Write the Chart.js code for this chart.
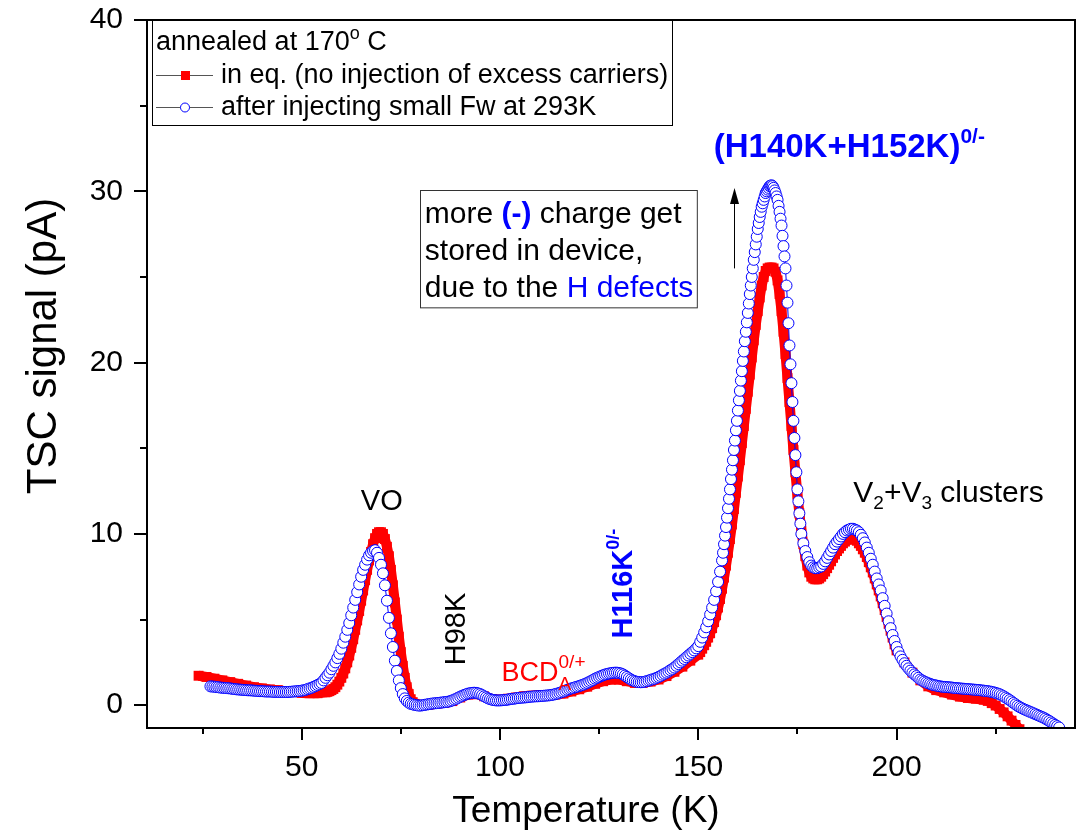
<!DOCTYPE html>
<html>
<head>
<meta charset="utf-8">
<script src="https://cdn.jsdelivr.net/npm/chart.js@4.4.1/dist/chart.umd.min.js"></script>
<style>
  html, body { margin: 0; padding: 0; background: #fff; }
  #wrap { width: 1082px; height: 833px; }
</style>
</head>
<body>
<div id="wrap"><canvas id="tsc" width="1082" height="833"></canvas></div>
<script>
// TSC spectra, annealed at 170 C
// after injecting small Fw at 293K (blue open circles)
const injT = [
  27, 27.5, 28, 28.5, 29, 29.5, 30, 30.5, 31, 31.5, 32, 32.5, 33, 33.5, 34, 34.5, 35, 35.5, 36, 36.5, 37, 37.5,
  38, 38.5, 39, 39.5, 40, 40.5, 41, 41.5, 42, 42.5, 43, 43.5, 44, 44.5, 45, 45.5, 46, 46.5, 47, 47.5, 48, 48.5,
  49, 49.5, 50, 50.5, 51, 51.5, 52, 52.5, 53, 53.5, 54, 54.5,
  55, 55.5, 56, 56.5, 57, 57.5, 58, 58.5, 59, 59.5, 60, 60.5, 61, 61.5, 62, 62.5, 63, 63.5, 64, 64.5, 65, 65.5,
  66, 66.5, 67, 67.5, 68, 68.5, 69, 69.5, 70, 70.5, 71, 71.5, 72, 72.5, 73, 73.5, 74, 74.5, 75, 75.5, 76, 76.5,
  77, 77.5, 78, 78.5, 79, 79.5, 80,
  80.5, 81, 81.5, 82, 82.5, 83, 83.5, 84, 84.5, 85, 85.5, 86, 86.5, 87, 87.5, 88, 88.5, 89, 89.5, 90,
  90.5, 91, 91.5, 92, 92.5, 93, 93.5, 94, 94.5, 95, 95.5, 96, 96.5, 97, 97.5, 98, 98.5, 99, 99.5, 100,
  100.5, 101, 101.5, 102, 102.5, 103, 103.5, 104, 104.5, 105, 105.5, 106, 106.5, 107, 107.5, 108, 108.5, 109, 109.5, 110,
  110.5, 111, 111.5, 112, 112.5, 113, 113.5, 114, 114.5, 115, 115.5, 116, 116.5, 117, 117.5, 118, 118.5, 119, 119.5, 120,
  120.5, 121, 121.5, 122, 122.5, 123, 123.5, 124, 124.5, 125, 125.5, 126, 126.5, 127, 127.5, 128, 128.5, 129, 129.5, 130,
  130.5, 131, 131.5, 132, 132.5, 133, 133.5, 134, 134.5, 135, 135.5, 136, 136.5, 137, 137.5, 138, 138.5, 139, 139.5, 140,
  140.5, 141, 141.5, 142, 142.5, 143, 143.5, 144, 144.5, 145, 145.5, 146, 146.5, 147, 147.5, 148, 148.5, 149, 149.5,
  150, 150.5, 151, 151.5, 152, 152.5, 153, 153.5, 154, 154.5, 155, 155.5,
  156, 156.25, 156.5, 156.75, 157, 157.25, 157.5, 157.75, 158, 158.25, 158.5, 158.75, 159, 159.25, 159.5, 159.75,
  160, 160.25, 160.5, 160.75, 161, 161.25, 161.5, 161.75, 162, 162.25, 162.5, 162.75, 163, 163.25, 163.5, 163.75,
  164, 164.25, 164.5, 164.75, 165, 165.25, 165.5, 165.75, 166, 166.25, 166.5, 166.75, 167, 167.25, 167.5, 167.75,
  168, 168.25, 168.5, 168.75, 169, 169.25, 169.5, 169.75, 170, 170.25, 170.5, 170.75, 171, 171.25, 171.5, 171.75,
  172, 172.25, 172.5, 172.75, 173, 173.25, 173.5, 173.75, 174, 174.25, 174.5, 174.75, 175, 175.25, 175.5, 175.75, 176,
  176.5, 177, 177.5, 178, 178.5, 179, 179.5, 180, 180.5, 181, 181.5, 182, 182.5, 183, 183.5, 184, 184.5, 185,
  185.5, 186, 186.5, 187, 187.5, 188, 188.5, 189, 189.5, 190, 190.5, 191, 191.5, 192, 192.5, 193, 193.5, 194,
  194.5, 195, 195.5, 196, 196.5, 197, 197.5, 198, 198.5, 199, 199.5, 200,
  200.5, 201, 201.5, 202, 202.5, 203, 203.5, 204, 204.5, 205, 205.5, 206, 206.5, 207, 207.5, 208, 208.5, 209, 209.5, 210,
  210.5, 211, 211.5, 212, 212.5, 213, 213.5, 214, 214.5, 215, 215.5, 216, 216.5, 217, 217.5, 218, 218.5, 219, 219.5, 220,
  220.5, 221, 221.5, 222, 222.5, 223, 223.5, 224, 224.5, 225, 225.5, 226, 226.5, 227, 227.5, 228, 228.5, 229, 229.5, 230,
  230.5, 231, 231.5, 232, 232.5, 233, 233.5, 234, 234.5, 235, 235.5, 236, 236.5, 237, 237.5, 238, 238.5, 239, 239.5, 240,
  240.5, 241
];
const injV = [
  1.10, 1.09, 1.08, 1.06, 1.05, 1.03, 1.02, 1.01, 1.00, 0.99, 0.98, 0.96, 0.95, 0.93, 0.92, 0.91, 0.90, 0.89,
  0.88, 0.87, 0.87, 0.86, 0.85, 0.84, 0.83, 0.82, 0.82, 0.81, 0.80, 0.80, 0.80, 0.79, 0.78, 0.78, 0.78, 0.77,
  0.77, 0.77, 0.77, 0.77, 0.78, 0.79, 0.80, 0.81, 0.82, 0.83, 0.85, 0.87, 0.90, 0.94, 0.98, 1.02, 1.07, 1.12,
  1.18, 1.24,
  1.30, 1.45, 1.60, 1.75, 1.90, 2.10, 2.30, 2.50, 2.75, 3.00, 3.30, 3.65, 4.00, 4.40, 4.80, 5.25, 5.70, 6.15,
  6.60, 7.05, 7.50, 7.90, 8.20, 8.50, 8.75, 8.90, 9.00, 9.05, 8.90, 8.60, 8.20, 7.70, 7.00, 6.10, 5.10, 4.20,
  3.40, 2.60, 2.00, 1.45, 1.00, 0.65, 0.40, 0.25, 0.15, 0.08, 0.05, 0.02, 0.00, -0.02, -0.02,
  0.00, 0.02, 0.04, 0.06, 0.08, 0.10, 0.11, 0.12, 0.13, 0.15, 0.16, 0.18, 0.19, 0.21, 0.24, 0.28, 0.33, 0.38, 0.44, 0.50,
  0.55, 0.60, 0.64, 0.68, 0.70, 0.72, 0.73, 0.72, 0.69, 0.65, 0.59, 0.52, 0.46, 0.40, 0.36, 0.32, 0.30, 0.28, 0.28, 0.28,
  0.29, 0.30, 0.31, 0.33, 0.35, 0.37, 0.38, 0.40, 0.42, 0.43, 0.44, 0.45, 0.46, 0.47, 0.49, 0.50, 0.51, 0.52, 0.52, 0.53,
  0.54, 0.55, 0.56, 0.57, 0.58, 0.60, 0.62, 0.65, 0.68, 0.72, 0.76, 0.80, 0.85, 0.90, 0.94, 0.98, 1.01, 1.05, 1.08, 1.12,
  1.16, 1.20, 1.25, 1.30, 1.36, 1.42, 1.48, 1.55, 1.60, 1.65, 1.70, 1.75, 1.79, 1.82, 1.85, 1.87, 1.89, 1.90, 1.90, 1.88,
  1.85, 1.80, 1.73, 1.65, 1.57, 1.50, 1.44, 1.40, 1.37, 1.35, 1.34, 1.35, 1.37, 1.40, 1.44, 1.48, 1.51, 1.55, 1.60, 1.65,
  1.71, 1.78, 1.84, 1.90, 1.97, 2.05, 2.12, 2.20, 2.30, 2.40, 2.50, 2.60, 2.70, 2.80, 2.90, 3.00, 3.10, 3.20, 3.32,
  3.45, 3.70, 3.95, 4.25, 4.55, 4.90, 5.30, 5.70, 6.15, 6.65, 7.20, 7.80,
  8.45, 8.90, 9.40, 9.90, 10.40, 10.95, 11.50, 12.05, 12.60, 13.20, 13.75, 14.30, 14.90, 15.45, 16.05, 16.60,
  17.20, 17.80, 18.35, 18.95, 19.50, 20.10, 20.65, 21.25, 21.80, 22.35, 22.90, 23.45, 24.00, 24.50, 25.00, 25.50,
  26.00, 26.45, 26.90, 27.35, 27.80, 28.15, 28.50, 28.80, 29.10, 29.30, 29.50, 29.70, 29.90, 30.00, 30.10, 30.20,
  30.30, 30.33, 30.35, 30.30, 30.20, 30.05, 29.90, 29.70, 29.50, 29.15, 28.80, 28.40, 28.00, 27.40, 26.80, 26.20,
  25.50, 24.50, 23.50, 22.30, 21.00, 19.90, 18.80, 17.70, 16.60, 15.60, 14.60, 13.60, 12.60, 11.90, 11.20, 10.60, 10.00,
  9.45, 9.00, 8.65, 8.35, 8.15, 8.05, 8.00, 8.00, 8.05, 8.10, 8.25, 8.40, 8.60, 8.80, 9.00, 9.20, 9.40, 9.55,
  9.70, 9.85, 10.00, 10.10, 10.20, 10.25, 10.30, 10.30, 10.25, 10.20, 10.10, 9.95, 9.75, 9.50, 9.20, 8.90, 8.55, 8.20,
  7.80, 7.40, 7.05, 6.70, 6.25, 5.80, 5.35, 4.90, 4.50, 4.10, 3.75, 3.40,
  3.10, 2.85, 2.65, 2.45, 2.30, 2.15, 2.02, 1.90, 1.80, 1.70, 1.60, 1.50, 1.44, 1.38, 1.33, 1.28, 1.24, 1.20, 1.17, 1.15,
  1.12, 1.10, 1.08, 1.07, 1.06, 1.05, 1.04, 1.03, 1.01, 1.00, 0.99, 0.98, 0.97, 0.96, 0.95, 0.94, 0.93, 0.92, 0.91, 0.90,
  0.89, 0.88, 0.86, 0.85, 0.83, 0.82, 0.80, 0.78, 0.75, 0.72, 0.68, 0.64, 0.58, 0.52, 0.45, 0.38, 0.30, 0.22, 0.13, 0.05,
  -0.03, -0.10, -0.16, -0.22, -0.27, -0.32, -0.37, -0.42, -0.47, -0.52, -0.57, -0.62, -0.67, -0.72, -0.78, -0.85, -0.92,
  -1.00, -1.07, -1.15, -1.22, -1.30
];

// in eq. (no injection of excess carriers) (red squares)
const eqT = [
  24, 26, 28, 30, 32, 34, 36, 38, 40, 42, 44, 46, 48, 50, 52, 54,
  56, 56.5, 57, 57.5, 58, 58.5, 59, 59.5, 60, 60.5, 61, 61.5, 62, 62.5, 63, 63.5, 64, 64.5, 65, 65.5, 66, 66.5,
  67, 67.5, 68, 68.5, 69, 69.5, 70, 70.5, 71, 71.5, 72, 72.5, 73, 73.5, 74, 74.5, 75, 75.5, 76, 76.5, 77, 77.5,
  78, 78.5, 79, 79.5, 80,
  82, 84, 86, 88, 90, 92, 94, 96, 98, 100, 102, 104, 106, 108, 110, 112, 114, 116, 118, 120, 122, 124, 126, 128,
  130, 132, 134, 136, 138, 140, 142, 144, 146, 148,
  150, 150.5, 151, 151.5, 152, 152.5, 153, 153.5, 154, 154.5, 155, 155.5, 156, 156.5, 157, 157.5, 158, 158.5,
  159, 159.5, 160, 160.5, 161, 161.5, 162, 162.5, 163, 163.5, 164, 164.5, 165, 165.5, 166, 166.5, 167, 167.5,
  168, 168.5, 169, 169.5, 170, 170.5, 171, 171.5, 172, 172.5, 173, 173.5, 174, 174.5, 175, 175.5, 176, 176.5,
  177, 177.5, 178, 178.5, 179, 179.5, 180, 180.5, 181, 181.5, 182, 182.5, 183, 183.5, 184, 184.5, 185, 185.5,
  186, 186.5, 187, 187.5, 188, 188.5, 189, 189.5, 190, 190.5, 191, 191.5, 192, 192.5, 193, 193.5, 194, 194.5,
  195, 195.5, 196, 196.5, 197, 197.5, 198, 198.5, 199, 199.5, 200,
  202, 204, 206, 208, 210, 212, 214, 216, 218, 220, 222, 223, 224, 225, 226, 227, 228, 229, 230, 231
];
const eqV = [
  1.72, 1.65, 1.55, 1.45, 1.35, 1.25, 1.15, 1.05, 0.98, 0.92, 0.88, 0.82, 0.78, 0.72, 0.70, 0.70,
  0.75, 0.78, 0.82, 0.88, 0.95, 1.05, 1.20, 1.38, 1.60, 1.85, 2.15, 2.50, 2.90, 3.35, 3.85, 4.40, 4.95, 5.50,
  6.10, 6.70, 7.30, 7.90, 8.45, 8.95, 9.40, 9.75, 10.00, 10.10, 10.10, 10.00, 9.70, 9.25, 8.70, 7.90, 7.00, 6.00,
  5.00, 4.00, 3.10, 2.30, 1.60, 1.05, 0.65, 0.35, 0.18, 0.08, 0.03, 0.00, 0.00,
  0.03, 0.08, 0.14, 0.24, 0.45, 0.62, 0.66, 0.52, 0.36, 0.32, 0.38, 0.45, 0.52, 0.56, 0.60, 0.60, 0.62, 0.68,
  0.80, 0.93, 1.08, 1.25, 1.40, 1.50, 1.50, 1.40, 1.30, 1.30, 1.38, 1.50, 1.70, 1.95, 2.25, 2.60,
  2.95, 3.10, 3.30, 3.50, 3.70, 3.95, 4.20, 4.50, 4.85, 5.25, 5.70, 6.20, 6.80, 7.45, 8.15, 8.90, 9.70, 10.55,
  11.45, 12.40, 13.35, 14.30, 15.30, 16.30, 17.30, 18.30, 19.30, 20.30, 21.30, 22.20, 23.00, 23.80, 24.50, 25.00,
  25.35, 25.50, 25.55, 25.55, 25.50, 25.30, 24.80, 24.00, 23.00, 21.80, 20.50, 19.10, 17.70, 16.30, 14.90, 13.60,
  12.30, 11.20, 10.20, 9.40, 8.70, 8.15, 7.75, 7.50, 7.40, 7.35, 7.35, 7.40, 7.50, 7.65, 7.80, 8.00, 8.20, 8.40,
  8.60, 8.80, 9.00, 9.15, 9.30, 9.45, 9.55, 9.65, 9.70, 9.75, 9.75, 9.70, 9.60, 9.45, 9.30, 9.10, 8.90, 8.65,
  8.35, 8.05, 7.75, 7.40, 7.05, 6.70, 6.35, 5.95, 5.55, 5.15, 4.75, 4.35, 3.95, 3.55, 3.20,
  2.50, 1.90, 1.45, 1.10, 0.88, 0.75, 0.62, 0.50, 0.42, 0.38, 0.32, 0.25, 0.12, -0.02, -0.22, -0.42, -0.65,
  -0.90, -1.15, -1.40
];

const xTicks = [50, 100, 150, 200];
const yTicks = [0, 10, 20, 30, 40];

const FONT = 'Arial, "Liberation Sans", Helvetica, sans-serif';
Chart.defaults.font.family = FONT;
Chart.defaults.color = '#000';

function toPts(xs, ys) {
  return xs.map((t, i) => ({ x: t, y: ys[i] }));
}

function setFont(ctx, size, bold) {
  ctx.font = (bold ? 'bold ' : '') + size + 'px ' + FONT;
}

// draws text runs: [text, size, color, bold, dy]
function drawRuns(ctx, runs, x, y) {
  let cx = x;
  runs.forEach(r => {
    setFont(ctx, r[1], r[3]);
    ctx.fillStyle = r[2];
    ctx.fillText(r[0], cx, y + (r[4] || 0));
    cx += ctx.measureText(r[0]).width;
  });
  return cx;
}

const overlay = {
  id: 'overlay',
  afterDraw(chart) {
    const { ctx, chartArea: a, scales: { x, y } } = chart;
    ctx.save();
    ctx.textAlign = 'left';
    ctx.textBaseline = 'alphabetic';

    // frame
    ctx.strokeStyle = '#000';
    ctx.lineWidth = 2;
    ctx.strokeRect(a.left, a.top, a.right - a.left, a.bottom - a.top);

    // tick marks (outside)
    ctx.beginPath();
    x.ticks.forEach(t => {
      const px = Math.round(x.getPixelForValue(t.value));
      const len = xTicks.includes(t.value) ? 12 : 6;
      ctx.moveTo(px, a.bottom);
      ctx.lineTo(px, a.bottom + len);
    });
    y.ticks.forEach(t => {
      const py = Math.round(y.getPixelForValue(t.value));
      const len = yTicks.includes(t.value) ? 13 : 7;
      ctx.moveTo(a.left, py);
      ctx.lineTo(a.left - len, py);
    });
    ctx.stroke();

    // axis titles
    ctx.fillStyle = '#000';
    ctx.textAlign = 'center';
    setFont(ctx, 37);
    ctx.fillText('Temperature (K)', 586, 822);
    setFont(ctx, 42);
    ctx.save();
    ctx.translate(56, 346);
    ctx.rotate(-Math.PI / 2);
    ctx.fillText('TSC signal (pA)', 0, 0);
    ctx.restore();
    ctx.textAlign = 'left';

    // legend
    const lx = a.left + 5, ly = a.top;
    ctx.fillStyle = '#fff';
    ctx.fillRect(lx, ly, 520, 105);
    ctx.strokeStyle = '#000';
    ctx.lineWidth = 1;
    ctx.strokeRect(lx + 0.5, ly + 0.5, 520, 105);
    drawRuns(ctx, [['annealed at 170', 27, '#000'], ['o', 18, '#000', false, -11], [' C', 27, '#000']], lx + 4, ly + 30);
    ctx.strokeStyle = '#555';
    ctx.beginPath();
    ctx.moveTo(lx + 4, ly + 55.5); ctx.lineTo(lx + 61, ly + 55.5);
    ctx.moveTo(lx + 4, ly + 87.5); ctx.lineTo(lx + 61, ly + 87.5);
    ctx.stroke();
    ctx.fillStyle = '#ff0000';
    ctx.fillRect(lx + 29, ly + 51, 9, 9);
    ctx.beginPath();
    ctx.arc(lx + 33, ly + 87.5, 4.5, 0, Math.PI * 2);
    ctx.fillStyle = '#fff';
    ctx.fill();
    ctx.strokeStyle = '#0000ff';
    ctx.stroke();
    drawRuns(ctx, [['in eq. (no injection of excess carriers)', 27, '#000']], lx + 69, ly + 63);
    drawRuns(ctx, [['after injecting small Fw at 293K', 27, '#000']], lx + 69, ly + 95);

    // note box
    const bx0 = x.getPixelForValue(79.8), bx1 = x.getPixelForValue(149.6);
    const by0 = y.getPixelForValue(30.05), by1 = y.getPixelForValue(23.2);
    ctx.strokeStyle = '#333';
    ctx.lineWidth = 1;
    ctx.strokeRect(Math.round(bx0) + 0.5, Math.round(by0) + 0.5, bx1 - bx0, by1 - by0);
    drawRuns(ctx, [['more ', 30, '#000'], ['(-)', 30, '#0000ff', true], [' charge get', 30, '#000']], bx0 + 5, by0 + 33);
    drawRuns(ctx, [['stored in device,', 30, '#000']], bx0 + 5, by0 + 70);
    drawRuns(ctx, [['due to the ', 30, '#000'], ['H defects', 30, '#0000ff']], bx0 + 5, by0 + 107);

    // arrow
    const ax = Math.round(x.getPixelForValue(158.9)) + 0.5;
    const ay0 = y.getPixelForValue(25.5), ay1 = y.getPixelForValue(30.2);
    ctx.strokeStyle = '#000';
    ctx.lineWidth = 1;
    ctx.beginPath();
    ctx.moveTo(ax, ay0); ctx.lineTo(ax, ay1 + 12);
    ctx.stroke();
    ctx.fillStyle = '#000';
    ctx.beginPath();
    ctx.moveTo(ax, ay1); ctx.lineTo(ax - 4.5, ay1 + 16); ctx.lineTo(ax + 4.5, ay1 + 16);
    ctx.closePath();
    ctx.fill();

    // peak labels
    setFont(ctx, 29);
    ctx.fillStyle = '#000';
    ctx.textAlign = 'center';
    ctx.fillText('VO', x.getPixelForValue(70.2), y.getPixelForValue(11.4));
    ctx.textAlign = 'left';

    ctx.save();
    ctx.translate(x.getPixelForValue(91.1), y.getPixelForValue(2.33));
    ctx.rotate(-Math.PI / 2);
    drawRuns(ctx, [['H98K', 29, '#000']], 0, 0);
    ctx.restore();

    const bcX = x.getPixelForValue(100.4), bcY = y.getPixelForValue(1.4);
    const bcEnd = drawRuns(ctx, [['BCD', 27, '#ff0000']], bcX, bcY);
    drawRuns(ctx, [['0/+', 19, '#ff0000', false, -13]], bcEnd, bcY);
    drawRuns(ctx, [['A', 19, '#ff0000', false, 9]], bcEnd, bcY);

    ctx.save();
    ctx.translate(x.getPixelForValue(133.3), y.getPixelForValue(3.9));
    ctx.rotate(-Math.PI / 2);
    drawRuns(ctx, [['H116K', 29, '#0000ff', true], ['0/-', 18, '#0000ff', true, -13]], 0, 0);
    ctx.restore();

    drawRuns(ctx, [['(H140K+H152K)', 33, '#0000ff', true], ['0/-', 21, '#0000ff', true, -14]],
      x.getPixelForValue(153.9), y.getPixelForValue(32.0));

    drawRuns(ctx, [['V', 30, '#000'], ['2', 19, '#000', false, 7], ['+V', 30, '#000'], ['3', 19, '#000', false, 7],
      [' clusters', 30, '#000']], x.getPixelForValue(189.1), y.getPixelForValue(11.85));

    ctx.restore();
  }
};

new Chart(document.getElementById('tsc'), {
  type: 'scatter',
  data: {
    datasets: [
      {
        label: 'after injecting small Fw at 293K',
        data: toPts(injT, injV),
        showLine: true,
        borderColor: '#0000ff',
        borderWidth: 1,
        pointStyle: 'circle',
        pointRadius: 5.5,
        pointBorderWidth: 1,
        pointBorderColor: '#0000ff',
        pointBackgroundColor: '#ffffff',
        clip: 0
      },
      {
        label: 'in eq. (no injection of excess carriers)',
        data: toPts(eqT, eqV),
        showLine: true,
        borderColor: '#ff0000',
        borderWidth: 10,
        borderJoinStyle: 'round',
        borderCapStyle: 'butt',
        pointStyle: 'rect',
        pointRadius: 7,
        pointBorderWidth: 0,
        pointBackgroundColor: '#ff0000',
        pointBorderColor: '#ff0000',
        clip: 0
      }
    ]
  },
  options: {
    responsive: false,
    animation: false,
    devicePixelRatio: 1,
    layout: { padding: { top: 20, right: 4, left: 0, bottom: 0 } },
    plugins: { legend: { display: false }, tooltip: { enabled: false } },
    scales: {
      x: {
        type: 'linear',
        min: 11,
        max: 245,
        afterFit: s => { s.height = 105; s.paddingLeft = 0; s.paddingRight = 0; },
        grid: { display: false, drawTicks: true, tickLength: 12 },
        border: { display: false },
        ticks: {
          stepSize: 25,
          includeBounds: false,
          autoSkip: false,
          maxRotation: 0,
          padding: 10,
          color: '#000',
          font: { size: 30 },
          callback: v => (xTicks.includes(v) ? String(v) : '')
        }
      },
      y: {
        type: 'linear',
        min: -1.33,
        max: 40,
        afterFit: s => { s.width = 147; s.paddingTop = 0; s.paddingBottom = 0; },
        grid: { display: false, drawTicks: true, tickLength: 13 },
        border: { display: false },
        ticks: {
          stepSize: 5,
          includeBounds: false,
          autoSkip: false,
          padding: 11,
          color: '#000',
          font: { size: 30 },
          callback: v => (yTicks.includes(v) ? String(v) : '')
        }
      }
    }
  },
  plugins: [overlay]
});
</script>
</body>
</html>
